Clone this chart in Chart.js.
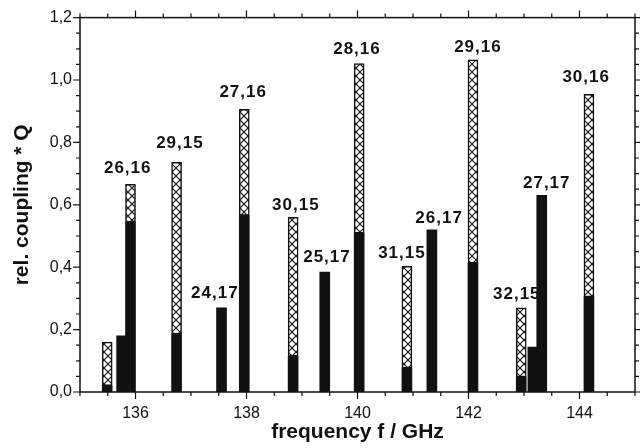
<!DOCTYPE html>
<html>
<head>
<meta charset="utf-8">
<script src="https://cdn.jsdelivr.net/npm/chart.js@4.4.1/dist/chart.umd.min.js"></script>
<style>
  html, body { margin: 0; padding: 0; background: #fff; }
  canvas { display: block; }
</style>
</head>
<body>
<canvas id="chart" width="640" height="448"></canvas>
<script>
// Line positions (GHz) and relative coupling * Q
const freq   = [135.49, 135.75, 135.91, 136.74, 137.55, 137.96, 138.84, 139.41, 140.03, 140.89, 141.34, 142.08, 142.95, 143.16, 143.32, 144.17];
const solidQ = [0.02, 0.18, 0.545, 0.186, 0.27, 0.566, 0.115, 0.384, 0.509, 0.077, 0.52, 0.413, 0.048, 0.144, 0.63, 0.305];
const totalQ = [0.16, 0.18, 0.666, 0.736, 0.27, 0.906, 0.56, 0.384, 1.053, 0.403, 0.52, 1.065, 0.27, 0.144, 0.63, 0.954];

// Mode labels, anchored in data units
const labelText = ['26,16', '29,15', '27,16', '24,17', '30,15', '25,17', '28,16', '31,15', '26,17', '29,16', '32,15', '27,17', '30,16'];
const labelFreq = [135.86, 136.80, 137.94, 137.43, 138.89, 139.45, 139.99, 140.80, 141.47, 142.17, 142.87, 143.41, 144.12];
const labelQ    = [0.717, 0.797, 0.960, 0.317, 0.598, 0.432, 1.098, 0.445, 0.557, 1.104, 0.314, 0.669, 1.008];

const xTicks = [136, 138, 140, 142, 144];
const yTicks = [0, 0.2, 0.4, 0.6, 0.8, 1.0, 1.2];

const FONT = '"Liberation Sans", Arial, Helvetica, sans-serif';
const INK = '#111';

// cross-hatch fill
function hatch() {
  const c = document.createElement('canvas');
  c.width = 8; c.height = 8;
  const g = c.getContext('2d');
  g.fillStyle = '#fff';
  g.fillRect(0, 0, 8, 8);
  g.strokeStyle = INK;
  g.lineWidth = 1.1;
  g.beginPath();
  g.moveTo(0, 0); g.lineTo(8, 8);
  g.moveTo(8, 0); g.lineTo(0, 8);
  g.stroke();
  return g.createPattern(c, 'repeat');
}

const solidData = freq.map((f, i) => ({ x: f, y: [0, solidQ[i]] }));
const hatchData = freq.map((f, i) => totalQ[i] > solidQ[i] ? { x: f, y: [solidQ[i], totalQ[i]] } : null).filter(Boolean);

// frame box + outward major/minor ticks, then the mode labels
const framePlugin = {
  id: 'frame',
  afterDraw(chart) {
    const { ctx, chartArea: a, scales: { x, y } } = chart;
    ctx.save();
    ctx.strokeStyle = INK;
    ctx.lineWidth = 1.5;
    ctx.strokeRect(a.left, a.top, a.right - a.left, a.bottom - a.top);
    ctx.lineWidth = 1.2;
    ctx.beginPath();
    for (let k = 0; k <= 20; k++) {
      const px = x.getPixelForValue(135 + k * 0.5);
      const len = k % 4 === 2 ? 7 : 4;
      ctx.moveTo(px, a.bottom); ctx.lineTo(px, a.bottom + len);
      ctx.moveTo(px, a.top); ctx.lineTo(px, a.top - len);
    }
    for (let k = 0; k <= 24; k++) {
      const py = y.getPixelForValue(k * 0.05);
      const len = k % 4 === 0 ? 7 : 4;
      ctx.moveTo(a.left, py); ctx.lineTo(a.left - len, py);
      ctx.moveTo(a.right, py); ctx.lineTo(a.right + len, py);
    }
    ctx.stroke();

    ctx.fillStyle = INK;
    ctx.font = 'bold 17px ' + FONT;
    ctx.letterSpacing = '1px';
    ctx.textAlign = 'center';
    ctx.textBaseline = 'middle';
    labelText.forEach((t, i) => {
      ctx.fillText(t, x.getPixelForValue(labelFreq[i]), y.getPixelForValue(labelQ[i]));
    });
    ctx.restore();
  }
};

new Chart(document.getElementById('chart'), {
  type: 'bar',
  data: {
    datasets: [
      { label: 'solid', data: solidData, backgroundColor: INK, borderWidth: 0, barThickness: 10 },
      { label: 'hatched', data: hatchData, backgroundColor: hatch(), borderColor: INK, borderWidth: 1.5, borderSkipped: false, barThickness: 10 }
    ]
  },
  options: {
    responsive: false,
    animation: false,
    layout: { padding: { top: 17, right: 5 } },
    plugins: { legend: { display: false }, tooltip: { enabled: false } },
    scales: {
      x: {
        type: 'linear', min: 135, max: 145, stacked: true, offset: false,
        grid: { display: false, drawTicks: false, offset: false },
        border: { display: false },
        afterBuildTicks: s => { s.ticks = xTicks.map(v => ({ value: v })); },
        afterFit: s => { s.height = 56; },
        ticks: { padding: 12, color: INK, font: { family: FONT, size: 16 }, callback: v => String(v) },
        title: { display: true, text: 'frequency f / GHz', color: INK, font: { family: FONT, size: 21, weight: 'bold' }, padding: { top: 0, bottom: 3 } }
      },
      y: {
        min: 0, max: 1.2,
        grid: { display: false, drawTicks: false },
        border: { display: false },
        afterBuildTicks: s => { s.ticks = yTicks.map(v => ({ value: v })); },
        afterFit: s => { s.width = 80; },
        ticks: { padding: 8, color: INK, font: { family: FONT, size: 16 }, callback: v => v.toFixed(1).replace('.', ',') },
        title: { display: true, text: 'rel. coupling * Q', color: INK, font: { family: FONT, size: 21, weight: 'bold' }, padding: { top: 10, bottom: 0 } }
      }
    }
  },
  plugins: [framePlugin]
});
</script>
</body>
</html>
